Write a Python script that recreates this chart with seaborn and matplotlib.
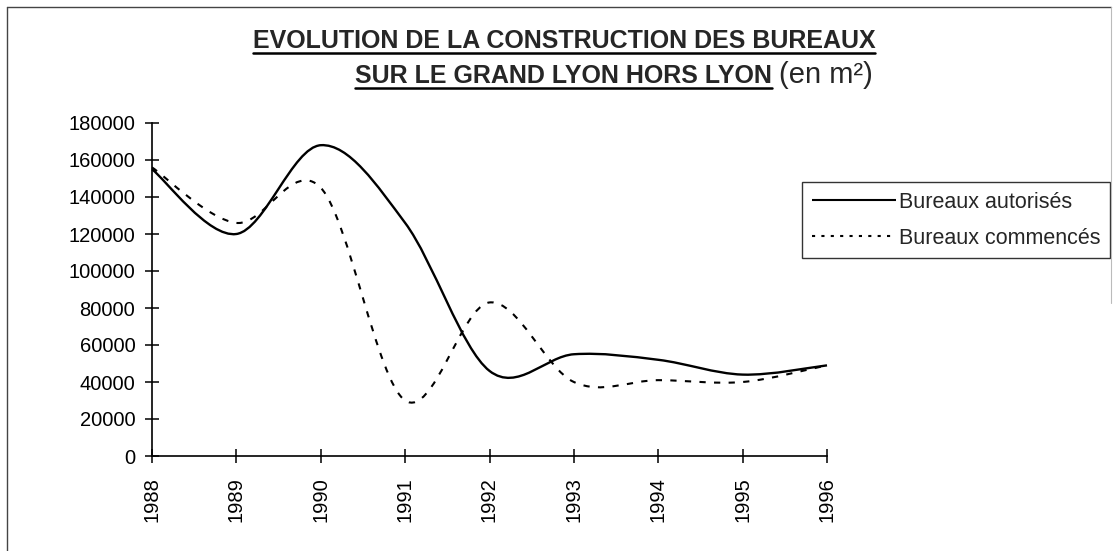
import numpy as np
import pandas as pd
import seaborn as sns
import matplotlib.pyplot as plt
from matplotlib.path import Path
from matplotlib.patches import PathPatch
from matplotlib.lines import Line2D

# valeurs (m2)
annees = [1988, 1989, 1990, 1991, 1992, 1993, 1994, 1995, 1996]
autorises = [155000, 120000, 168000, 126000, 46000, 55000, 52000, 44000, 49000]
commences = [156000, 126000, 145000, 30000, 83000, 40000, 41000, 40000, 49000]
series = ['Bureaux autorisés', 'Bureaux commencés']
yticks = list(range(0, 180001, 20000))

styles = {'Bureaux autorisés': (0, ()), 'Bureaux commencés': (0, (3, 4))}
widths = {'Bureaux autorisés': 1.7, 'Bureaux commencés': 1.5}


def smooth_path(x, y):
    # courbe lissée comme dans Excel (bezier type Catmull-Rom)
    pts = np.column_stack([x, y]).astype(float)
    ext = np.vstack([pts[0], pts, pts[-1]])
    verts = [pts[0]]
    codes = [Path.MOVETO]
    for i in range(len(pts) - 1):
        p0, p1, p2, p3 = ext[i], ext[i + 1], ext[i + 2], ext[i + 3]
        verts += [p1 + (p2 - p0) / 6, p2 - (p3 - p1) / 6, p2]
        codes += [Path.CURVE4] * 3
    return Path(verts, codes)


sns.set_style('white')
plt.rcParams['font.family'] = ['Liberation Sans', 'DejaVu Sans']

df = pd.DataFrame({
    'annee': annees * 2,
    'm2': autorises + commences,
    'serie': [series[0]] * len(annees) + [series[1]] * len(annees),
})

W, H = 1118, 551
fig = plt.figure(figsize=(W / 100, H / 100), dpi=100)
ax = fig.add_axes([152 / W, 1 - 456 / H, (827 - 152) / W, (456 - 123) / H])

sns.lineplot(data=df, x='annee', y='m2', style='serie', style_order=series,
             color='black', legend=False, ax=ax)

# remplacer les segments droits par des courbes lissées
for line, name in zip(list(ax.lines), series):
    xy = line.get_xydata()
    line.remove()
    ax.add_patch(PathPatch(smooth_path(xy[:, 0], xy[:, 1]), facecolor='none',
                           edgecolor='black', lw=widths[name],
                           linestyle=styles[name], capstyle='butt',
                           joinstyle='round', clip_on=False))

ax.set_xlim(1988, 1996)
ax.set_ylim(0, 180000)
ax.set_xticks(annees)
ax.set_xticklabels([str(a) for a in annees], rotation=90, fontsize=14.5)
ax.set_yticks(yticks)
ax.set_yticklabels([str(v) for v in yticks], fontsize=14.5)
ax.set_xlabel('')
ax.set_ylabel('')
ax.tick_params(axis='both', direction='inout', length=10, width=1.1,
               color='black', labelcolor='black', bottom=True, left=True)
ax.tick_params(axis='y', pad=7)
ax.tick_params(axis='x', pad=10)
sns.despine(ax=ax)
for s in ['left', 'bottom']:
    ax.spines[s].set_color('black')
    ax.spines[s].set_linewidth(1.2)

handles = [Line2D([], [], color='black', lw=1.5, linestyle=(0, ())),
           Line2D([], [], color='black', lw=1.5, linestyle=(0, (1.5, 3)))]
leg = ax.legend(handles, series, loc='upper left',
                bbox_to_anchor=(802 / W, 1 - 182 / H),
                bbox_transform=fig.transFigure, borderaxespad=0,
                fontsize=15.5, handlelength=3.9, handletextpad=0.15,
                labelspacing=0.7, borderpad=0.45, frameon=True,
                fancybox=False, shadow=False)
leg.get_frame().set_edgecolor('black')
leg.get_frame().set_linewidth(1.0)

# titre souligné
t1 = fig.text(564 / W, 1 - 48 / H, 'EVOLUTION DE LA CONSTRUCTION DES BUREAUX',
              ha='center', va='baseline', fontsize=18, fontweight='bold')
t2 = fig.text(355 / W, 1 - 83 / H, 'SUR LE GRAND LYON HORS LYON',
              ha='left', va='baseline', fontsize=18, fontweight='bold')
fig.canvas.draw()
r = fig.canvas.get_renderer()
b2 = t2.get_window_extent(r)
fig.text((b2.x1 + 7) / W, 1 - 83 / H, '(en m²)', ha='left', va='baseline',
         fontsize=21)
for t, base in [(t1, 48), (t2, 83)]:
    b = t.get_window_extent(r)
    yy = 1 - (base + 5) / H
    fig.add_artist(Line2D([b.x0 / W, b.x1 / W], [yy, yy], color='black',
                          lw=1.8, transform=fig.transFigure))

# cadre de la page
fig.add_artist(Line2D([7 / W, 7 / W], [0, 1 - 7 / H], color='#444444', lw=1.0,
                      transform=fig.transFigure))
fig.add_artist(Line2D([7 / W, 1111 / W], [1 - 7 / H, 1 - 7 / H], color='#444444',
                      lw=1.0, transform=fig.transFigure))
fig.add_artist(Line2D([1111 / W, 1111 / W], [0.45, 1 - 7 / H], color='#bbbbbb',
                      lw=0.8, transform=fig.transFigure))

fig.savefig('out.png', dpi=100)
